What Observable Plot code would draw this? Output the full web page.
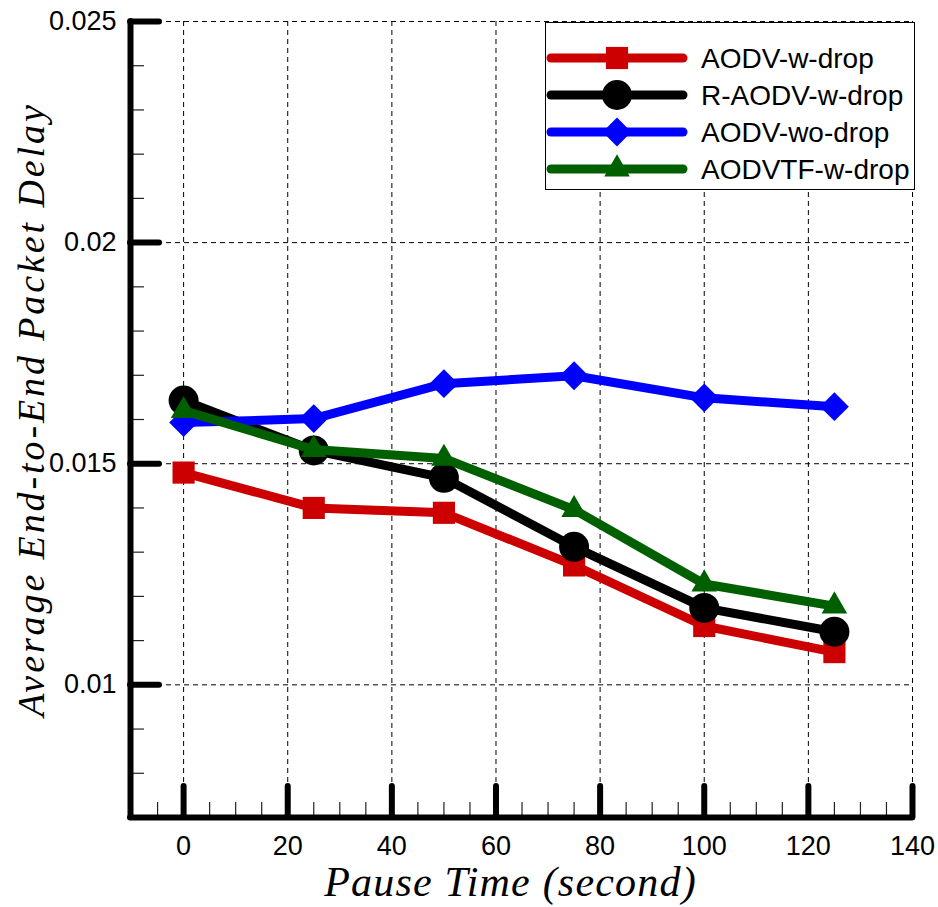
<!DOCTYPE html>
<html>
<head>
<meta charset="utf-8">
<script src="https://cdn.jsdelivr.net/npm/d3@7"></script>
<script src="https://cdn.jsdelivr.net/npm/@observablehq/plot@0.6"></script>
<style>
  html, body { margin: 0; padding: 0; background: #fff; }
  #wrap { position: relative; width: 938px; height: 907px; }
  #legend { position: absolute; left: 545px; top: 22px; }
</style>
</head>
<body>
<div id="wrap"></div>
<script>
// ---- data ----
const pauseTimes = [0, 25, 50, 75, 100, 125];
const aodvWDrop   = [0.0148, 0.0140, 0.01389, 0.0127, 0.01133, 0.01074];
const raodvWDrop  = [0.01643, 0.0153, 0.01468, 0.01312, 0.01174, 0.0112];
const aodvWoDrop  = [0.01593, 0.01602, 0.01681, 0.01699, 0.01649, 0.01629];
const aodvtfWDrop = [0.0162, 0.01532, 0.01512, 0.01396, 0.01228, 0.01178];

const seriesNames = ["AODV-w-drop", "R-AODV-w-drop", "AODV-wo-drop", "AODVTF-w-drop"];
const seriesColors = ["#cc0000", "#000000", "#0000ff", "#006000"];
const seriesSymbols = ["square", "circle", "diamond2", "triangle"];
const seriesR = [12.5, 15, 13, 9.5];
const seriesValues = [aodvWDrop, raodvWDrop, aodvWoDrop, aodvtfWDrop];

const xMajor = [0, 20, 40, 60, 80, 100, 120, 140];
const xMinor = [-5, 5, 10, 15, 25, 30, 35, 45, 50, 55, 65, 70, 75, 85, 90, 95, 105, 110, 115, 125, 130, 135];
const yMajor = [0.01, 0.015, 0.02, 0.025];
const yTickLabels = ["0.01", "0.015", "0.02", "0.025"];
const yMinor = [0.008, 0.009, 0.011, 0.012, 0.013, 0.014, 0.016, 0.017, 0.018, 0.019, 0.021, 0.022, 0.023, 0.024];

const xLabel = "Pause Time (second)";
const yLabel = "Average End-to-End Packet Delay";

// ---- layout ----
const W = 938, H = 907;
const mL = 130, mR = 26, mT = 21, mB = 90;
const plotW = W - mL - mR, plotH = H - mT - mB;
const xDomain = [-10.2, 140];
const yDomain = [0.007, 0.025];

const rows = [];
seriesNames.forEach((s, i) => pauseTimes.forEach((t, j) => rows.push({series: s, t, v: seriesValues[i][j]})));

const marks = [
  Plot.gridY(yMajor, {stroke: "#000", strokeOpacity: 1, strokeWidth: 1, strokeDasharray: "5,4"}),
  Plot.gridX(xMajor, {stroke: "#000", strokeOpacity: 1, strokeWidth: 1, strokeDasharray: "5,4"})
];
seriesNames.forEach((s, i) => {
  const d = rows.filter(r => r.series === s);
  marks.push(Plot.line(d, {x: "t", y: "v", stroke: seriesColors[i], strokeWidth: 9, strokeLinejoin: "round"}));
  marks.push(Plot.dot(d, {x: "t", y: "v", fill: seriesColors[i], stroke: "none", symbol: seriesSymbols[i], r: seriesR[i]}));
});
marks.push(
  Plot.tickY(yMinor, {y: d => d, stroke: "#222", strokeWidth: 1.2, insetRight: plotW - 14}),
  Plot.tickX(xMinor, {x: d => d, stroke: "#222", strokeWidth: 1.2, insetTop: plotH - 15}),
  Plot.tickY(yMajor, {y: d => d, stroke: "#000", strokeWidth: 6, strokeLinecap: "round", insetRight: plotW - 29}),
  Plot.tickX(xMajor, {x: d => d, stroke: "#000", strokeWidth: 6, strokeLinecap: "round", insetTop: plotH - 31}),
  Plot.ruleX([xDomain[0]], {stroke: "#000", strokeWidth: 6, strokeLinecap: "round"}),
  Plot.ruleY([yDomain[0]], {stroke: "#000", strokeWidth: 6, strokeLinecap: "round"}),
  Plot.axisY(yMajor, {tickSize: 0, tickPadding: 14, fontSize: 27, tickFormat: (d, i) => yTickLabels[i], label: null}),
  Plot.axisX(xMajor, {tickSize: 0, tickPadding: 18, fontSize: 27, label: null}),
  Plot.text([yLabel], {text: d => d, frameAnchor: "left", textAnchor: "middle", lineAnchor: "middle",
    rotate: -90, dx: -99, dy: -10,
    fontSize: 38, fontStyle: "italic", fontFamily: "Liberation Serif"}),
  Plot.text([xLabel], {text: d => d, frameAnchor: "bottom", textAnchor: "middle", lineAnchor: "middle",
    dx: -11, dy: 65,
    fontSize: 42, fontStyle: "italic", fontFamily: "Liberation Serif"})
);

const chart = Plot.plot({
  width: W, height: H,
  marginLeft: mL, marginRight: mR, marginTop: mT, marginBottom: mB,
  style: {fontFamily: "Liberation Sans", color: "#000", background: "#fff", overflow: "visible"},
  x: {domain: xDomain},
  y: {domain: yDomain},
  marks
});
// letter spacing for the axis titles
d3.select(chart).selectAll("text")
  .filter(function() { return this.textContent === yLabel; })
  .attr("letter-spacing", 2.9);
d3.select(chart).selectAll("text")
  .filter(function() { return this.textContent === xLabel; })
  .attr("letter-spacing", 1.2);
const wrap = document.getElementById("wrap");
wrap.appendChild(chart);

// ---- legend ----
const lg = d3.create("svg").attr("id", "legend").attr("width", 370).attr("height", 169);
lg.append("rect").attr("x", 0.5).attr("y", 0.5).attr("width", 369).attr("height", 167)
  .attr("fill", "#fff").attr("stroke", "#000").attr("stroke-width", 1);
seriesNames.forEach((s, i) => {
  const cy = 36 + i * 37;
  lg.append("line").attr("x1", 6).attr("x2", 138).attr("y1", cy).attr("y2", cy)
    .attr("stroke", seriesColors[i]).attr("stroke-width", 9).attr("stroke-linecap", "round");
  const sym = {square: d3.symbolSquare, circle: d3.symbolCircle, diamond2: d3.symbolDiamond2, triangle: d3.symbolTriangle}[seriesSymbols[i]];
  const r = seriesR[i];
  lg.append("path").attr("transform", `translate(72,${cy})`)
    .attr("d", d3.symbol(sym, r * r * Math.PI)()).attr("fill", seriesColors[i]);
  lg.append("text").attr("x", 156).attr("y", cy).attr("dy", "0.36em")
    .attr("font-family", "Liberation Sans").attr("font-size", 28).attr("fill", "#000").text(s);
});
wrap.appendChild(lg.node());
</script>
</body>
</html>
